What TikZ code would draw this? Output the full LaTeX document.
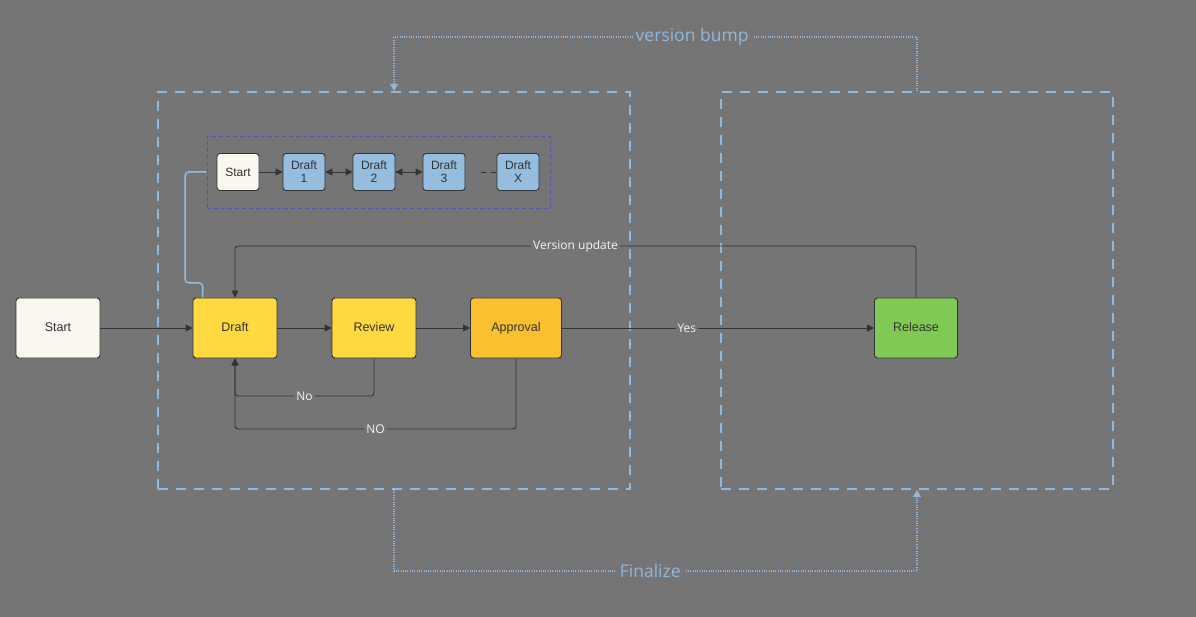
\documentclass[tikz,border=0pt]{standalone}
\usepackage{fontspec}
\setmainfont{Liberation Sans}
\newfontfamily\labelfont{Open Sans}
\usetikzlibrary{arrows.meta,positioning,calc}

\definecolor{canvas}{HTML}{757575}
\definecolor{ink}{HTML}{333333}
\definecolor{cream}{HTML}{FAF6F0}
\definecolor{draftyellow}{HTML}{FFD940}
\definecolor{approvalamber}{HTML}{FBC02D}
\definecolor{releasegreen}{HTML}{80C953}
\definecolor{versionblue}{HTML}{94BDE0}
\definecolor{stageblue}{HTML}{8FB8DC}
\definecolor{historyblue}{HTML}{4A58B0}

\begin{document}
\begin{tikzpicture}[
    x=1pt, y=-1pt,
    box/.style={draw=ink, line width=0.9pt, rounded corners=3pt, minimum width=84pt, minimum height=60pt, text height=9pt, text depth=2.5pt, font=\fontsize{12.5}{14}\selectfont, text=ink},
    mini/.style={draw=ink, line width=0.9pt, rounded corners=3pt, minimum width=42pt, minimum height=37pt, inner sep=1pt, align=center, font=\fontsize{12}{13}\selectfont, text=ink, fill=versionblue},
    stage/.style={draw=stageblue, line width=2.2pt, dash pattern=on 10pt off 8pt},
    flow/.style={draw=ink, line width=0.9pt, rounded corners=3pt, -{Triangle[length=7pt,width=7pt]}},
    link/.style={draw=ink, line width=0.9pt, {Triangle[length=7pt,width=7pt]}-{Triangle[length=7pt,width=7pt]}},
    lbl/.style={fill=canvas, inner sep=2pt, text=white!92!canvas, font=\labelfont\fontsize{12}{14}\selectfont},
    cycle/.style={draw=stageblue, line width=1.2pt, dash pattern=on 1pt off 1.3pt, -{Triangle[length=7pt,width=8pt]}},
    cyclelbl/.style={fill=canvas, inner sep=3pt, text=stageblue, font=\labelfont\fontsize{17.5}{20}\selectfont},
]

% Background
\fill[canvas] (0,0) rectangle (1196,617);
\useasboundingbox (0,0) rectangle (1196,617);

% Stages
\node[stage, minimum width=472pt, minimum height=397pt] (editing) at (394,290.5) {};
\node[stage, minimum width=392pt, minimum height=397pt] (publishing) at (917,290.5) {};

% Version history
\node[draw=historyblue, line width=0.8pt, dash pattern=on 4pt off 3pt, minimum width=343pt, minimum height=72pt] (history) at (378.5,172) {};
\node[mini, fill=cream] (hstart) at (238,172) {Start};
\node[mini] (draft1) at (304,172) {Draft\\1};
\node[mini] (draft2) at (374,172) {Draft\\2};
\node[mini] (draft3) at (444,172) {Draft\\3};
\node[mini] (draftx) at (518,172) {Draft\\X};

\draw[flow] (hstart) -- (draft1);
\draw[link] (draft1) -- (draft2);
\draw[link] (draft2) -- (draft3);
\draw[ink, line width=0.9pt, dash pattern=on 5pt off 5pt] (draft3.east) ++(16,0) -- (draftx.west);

% Main flow
\node[box, fill=cream] (start) at (58,328) {Start};
\node[box, fill=draftyellow] (draft) at (235,328) {Draft};
\node[box, fill=draftyellow] (review) at (374,328) {Review};
\node[box, fill=approvalamber, minimum width=91pt] (approval) at (516,328) {Approval};
\node[box, fill=releasegreen, minimum width=83pt] (release) at (916,328) {Release};

% History to draft
\draw[versionblue, line width=1.5pt, rounded corners=4pt] (history.west) -- (185,172) -- (185,283) -- (203,283) -- ([xshift=10pt]draft.north west);

% Connections
\draw[flow] (start) -- (draft);
\draw[flow] (draft) -- (review);
\draw[flow] (review) -- (approval);
\draw[flow] (approval) -- node[lbl, pos=0.4] {Yes} (release);
\draw[flow] (release.north) -- (release.north |- 0,246) -- node[lbl] {Version update} (draft.north |- 0,246) -- (draft.north);
\draw[flow] (review.south) -- (review.south |- 0,396) -- node[lbl] {No} (draft.south |- 0,396) -- (draft.south);
\draw[flow] (approval.south) -- (approval.south |- 0,429) -- node[lbl] {NO} (draft.south |- 0,429) -- (draft.south);

% Stage loops
\draw[cycle] (publishing.north) -- (publishing.north |- 0,37) -- node[cyclelbl, pos=0.43] {version bump} (editing.north |- 0,37) -- (editing.north);
\draw[cycle] (editing.south) -- (editing.south |- 0,571) -- node[cyclelbl, pos=0.49] {Finalize} (publishing.south |- 0,571) -- (publishing.south);

\end{tikzpicture}
\end{document}
